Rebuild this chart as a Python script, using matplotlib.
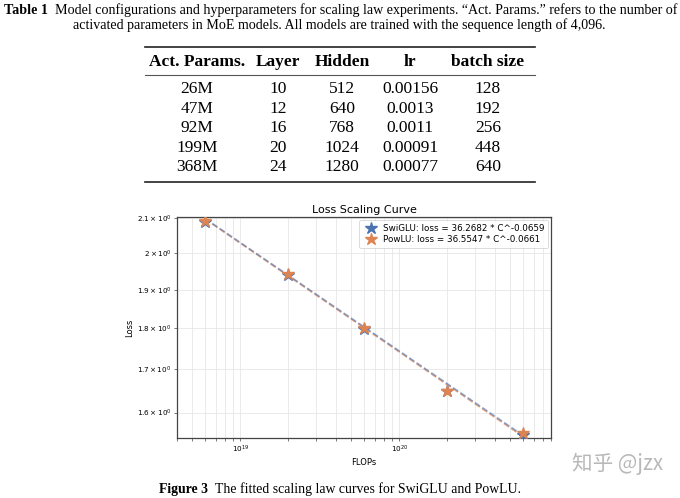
import numpy as np
import matplotlib
matplotlib.use("Agg")
import matplotlib.pyplot as plt

# ---------------- data ----------------
flops = [6e18, 2e19, 6e19, 2e20, 6e20]
swiglu_loss = [2.090, 1.939, 1.799, 1.648, 1.551]
powlu_loss = [2.092, 1.941, 1.800, 1.650, 1.555]
swiglu_fit = (36.2682, -0.0659)
powlu_fit = (36.5547, -0.0661)
series_names = ["SwiGLU", "PowLU"]

table_header = ["Act. Params.", "Layer", "Hidden", "lr", "batch size"]
col_params = ["26M", "47M", "92M", "199M", "368M"]
col_layer = ["10", "12", "16", "20", "24"]
col_hidden = ["512", "640", "768", "1024", "1280"]
col_lr = ["0.00156", "0.0013", "0.0011", "0.00091", "0.00077"]
col_batch = ["128", "192", "256", "448", "640"]

cap1_bold = "Table 1"
cap1_text = "Model configurations and hyperparameters for scaling law experiments. \u201cAct. Params.\u201d refers to the number of"
cap2_text = "activated parameters in MoE models. All models are trained with the sequence length of 4,096."
fig_bold = "Figure 3"
fig_text = "The fitted scaling law curves for SwiGLU and PowLU."
watermark = "知乎 @jzx"

# ---------------- figure ----------------
W, H = 680, 498
fig = plt.figure(figsize=(W / 100, H / 100), dpi=100)
fig.patch.set_facecolor("white")
renderer = fig.canvas.get_renderer()
SERIF = ["Liberation Serif", "DejaVu Serif"]


def fx(x):
    return x / W


def fy(y):
    return 1 - y / H


def width_at(s, size, family, weight="normal"):
    t = fig.text(0, 0, s, fontsize=size, family=family, weight=weight)
    w = t.get_window_extent(renderer).width
    t.remove()
    return w


# caption line 1 (bold label + text), fitted to width
base = 10
gap_base = width_at(" ", base, SERIF) * 2
wb = width_at(cap1_bold, base, SERIF, "bold")
wt = width_at(cap1_text, base, SERIF)
target = 672
s1 = base * target / (wb + gap_base + wt)
x0 = 4
fig.text(fx(x0), fy(10), cap1_bold, fontsize=s1, family=SERIF, weight="bold", va="center", ha="left")
fig.text(fx(x0 + (wb + gap_base) * s1 / base), fy(10), cap1_text, fontsize=s1, family=SERIF, va="center", ha="left")
fig.text(fx(339), fy(25), cap2_text, fontsize=s1, family=SERIF, va="center", ha="center")

# table
tab_size = base * 73 / width_at("batch size", base, SERIF, "bold")
col_x = [197, 278, 342, 410, 488]
header_y = 62
row_y = [89, 108.5, 128, 147.5, 167]
fig.add_artist(plt.Line2D([fx(145), fx(535)], [fy(47), fy(47)], color="#222222", lw=1.2))
fig.add_artist(plt.Line2D([fx(145), fx(535)], [fy(75), fy(75)], color="#555555", lw=0.8))
fig.add_artist(plt.Line2D([fx(145), fx(535)], [fy(182), fy(182)], color="#222222", lw=1.2))
for cx, h in zip(col_x, table_header):
    fig.text(fx(cx), fy(header_y), h, fontsize=tab_size, family=SERIF, weight="bold", ha="center", va="center")
columns = [col_params, col_layer, col_hidden, col_lr, col_batch]
for cx, col in zip(col_x, columns):
    for ry, v in zip(row_y, col):
        fig.text(fx(cx), fy(ry), v, fontsize=tab_size, family=SERIF, ha="center", va="center")

# figure caption
wb2 = width_at(fig_bold, base, SERIF, "bold")
wt2 = width_at(fig_text, base, SERIF)
s2 = base * 360 / (wb2 + gap_base + wt2)
xc = 159
fig.text(fx(xc), fy(489), fig_bold, fontsize=s2, family=SERIF, weight="bold", va="center", ha="left")
fig.text(fx(xc + (wb2 + gap_base) * s2 / base), fy(489), fig_text, fontsize=s2, family=SERIF, va="center", ha="left")

# watermark
wm_fam = ["Noto Sans CJK SC", "DejaVu Sans"]
swm = 10 * 91 / width_at(watermark, 10, wm_fam)
fig.text(fx(572), fy(464), watermark, fontsize=swm, family=wm_fam, color="#b8b8b8", va="center", ha="left")

# ---------------- chart ----------------
ax = fig.add_axes([fx(177), fy(438), (551 - 177) / W, (438 - 217.5) / H])
blue = "#4c72b0"
orange = "#dd8452"
c_line = np.logspace(np.log10(flops[0]), np.log10(flops[-1]), 100)
ax.plot(c_line, powlu_fit[0] * c_line ** powlu_fit[1], ls="--", color=orange, lw=1.2, alpha=0.7, zorder=2)
ax.plot(c_line, swiglu_fit[0] * c_line ** swiglu_fit[1], ls="--", color=blue, lw=1.2, alpha=0.6, zorder=2.1)
ax.plot(flops, swiglu_loss, ls="none", marker="*", markersize=9, color=blue, zorder=3,
        label=f"{series_names[0]}: loss = {swiglu_fit[0]} * C^{swiglu_fit[1]}")
ax.plot(flops, powlu_loss, ls="none", marker="*", markersize=9, color=orange, zorder=3.1,
        label=f"{series_names[1]}: loss = {powlu_fit[0]} * C^{powlu_fit[1]}")
ax.set_xscale("log")
ax.set_yscale("log")
ax.set_xlim(4e18, 9e20)
ax.set_ylim(1.544, 2.102)
ax.grid(True, which="both", color="#e6e6e6", lw=0.6)
ax.set_axisbelow(True)
ax.set_title("Loss Scaling Curve", fontsize=8, pad=3)
ax.set_xlabel("FLOPs", fontsize=6, labelpad=2)
ax.set_ylabel("Loss", fontsize=6, labelpad=2)
ax.tick_params(axis="both", which="both", labelsize=5.2, length=2, width=0.5, pad=2, color="#444444")
for sp in ax.spines.values():
    sp.set_color("#444444")
    sp.set_linewidth(0.9)
leg = ax.legend(loc="upper right", fontsize=6.3, frameon=True, handletextpad=0.4,
                borderpad=0.4, labelspacing=0.3, borderaxespad=0.3)
leg.get_frame().set_edgecolor("#cccccc")
leg.get_frame().set_linewidth(0.6)

fig.savefig("out.png", dpi=100, facecolor="white")
